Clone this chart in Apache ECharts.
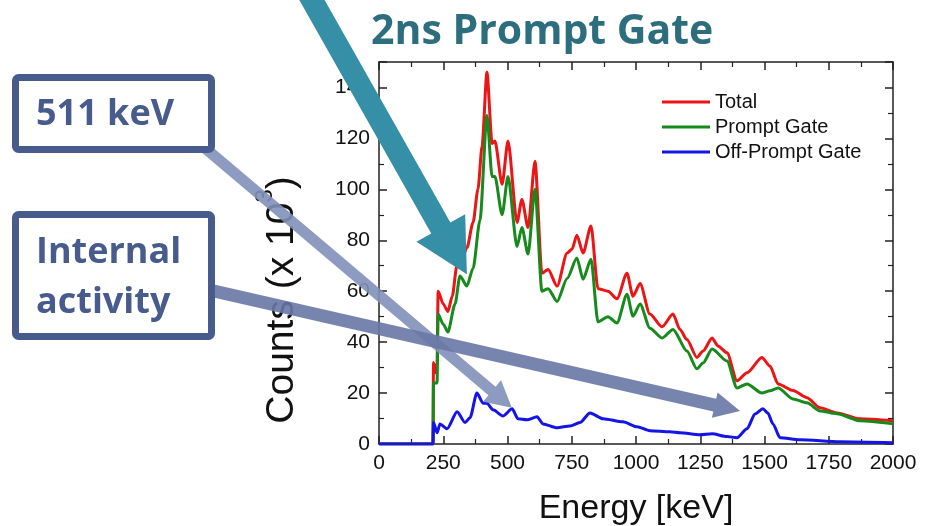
<!DOCTYPE html>
<html>
<head>
<meta charset="utf-8">
<script src="https://cdn.jsdelivr.net/npm/echarts@6/dist/echarts.min.js"></script>
<style>
  html, body { margin: 0; padding: 0; background: #ffffff; }
  #chart { width: 930px; height: 526px; }
</style>
</head>
<body>
<div id="chart"></div>
<script>
// Gamma energy spectra, counts in thousands per energy bin: [energy keV, counts]
const totalCounts = [
  [0,0],[205,0],[210,0],[212,32],[220,28],[226,32],[230,60],[250,55],[268,52],[285,58],
  [303,70],[320,72],[342,77],[366,87],[385,100],[401,117],[420,146],[440,118],[451,119],
  [479,102],[502,119],[537,87],[556,96],[580,85],[607,111],[634,67],[658,68.5],[693,62],
  [732,75],[751,76.5],[770,82],[794,75],[825,85.6],[852,61],[891,60],[926,57],[965,67],
  [988,58],[1016,63],[1054,51],[1101,46],[1144,51],[1171,45],[1198,41],[1237,34],
  [1261,36.5],[1296,41.6],[1319,38.5],[1354,35.8],[1393,24.8],[1432,28],[1490,34],
  [1521,30.6],[1553,23.6],[1611,21],[1665,18.2],[1716,14.2],[1782,12.2],[1872,9.9],[2000,9.1]
];
const promptCounts = [
  [0,0],[210,0],[212,24],[226,24],[230,51],[250,47],[268,44],[296,55],[315,66],[342,62],
  [366,69],[393,88],[420,129],[440,105],[451,105],[479,90],[502,105],[537,77.6],[556,85],
  [580,74.6],[607,100],[634,60],[658,61],[693,56],[732,65],[770,73],[794,64.7],[825,72.5],
  [852,48],[891,50],[926,47.5],[965,58.8],[988,50.2],[1016,55],[1054,45.5],[1101,41.6],
  [1144,45],[1198,36.5],[1237,29.5],[1261,31.8],[1296,37.3],[1354,32.6],[1393,22],
  [1432,23.6],[1490,20],[1521,20.9],[1553,22],[1611,17.7],[1665,16.2],[1716,13],
  [1782,11.9],[1872,9.1],[2000,7.9]
];
const offPromptCounts = [
  [0,0],[210,0],[212,8.4],[226,4.4],[237,7.9],[265,6],[304,12.7],[335,8.4],[354,10.3],
  [381,20],[405,16],[420,16],[444,13.4],[482,11],[518,13.8],[541,9.9],[576,9.5],[615,10.7],
  [638,7.9],[693,6.4],[743,7.1],[782,8.4],[821,12.2],[872,9.9],[949,8.7],[1004,6.8],
  [1054,5.2],[1132,4.8],[1171,4.4],[1249,3.6],[1296,4],[1354,2.9],[1393,2.5],[1432,6],
  [1463,11.8],[1494,13.8],[1513,12.2],[1533,7.9],[1560,2.5],[1638,1.7],[1794,0.9],[2000,0.5]
];
const seriesNames = ['Total', 'Prompt Gate', 'Off-Prompt Gate'];
const titleText = '2ns Prompt Gate';
const xAxisTitle = 'Energy [keV]';
// Callout boxes and the spectrum points their arrows land on: [energy keV, counts]
const gateArrowTip = [342, 66.7];
const annihilationLabel = '511 keV';
const annihilationTip = [517, 14.2];
const internalLabel = ['Internal', 'activity'];
const internalTip = [1405, 13];

const axisColor = '#222';
const frameAxis = (extra) => Object.assign({
  type: 'value',
  axisLine: { show: true, onZero: false, lineStyle: { color: axisColor, width: 1.5 } },
  axisTick: { show: true, inside: true, length: 8, lineStyle: { color: axisColor, width: 1.5 } },
  minorTick: { show: true, splitNumber: 2, length: 5, lineStyle: { color: axisColor, width: 1.2 } },
  splitLine: { show: false },
  minorSplitLine: { show: false }
}, extra);

const chart = echarts.init(document.getElementById('chart'), null, { renderer: 'canvas' });

const option = {
  backgroundColor: '#ffffff',
  animation: false,
  title: {
    text: titleText,
    left: 366, top: 7,
    textStyle: { fontFamily: 'Open Sans', fontWeight: 'bold', fontSize: 41, color: '#2d6e7e' }
  },
  grid: { left: 379, right: 37, top: 62, bottom: 82, containLabel: false, outerBoundsMode: 'none' },
  legend: {
    data: seriesNames,
    orient: 'vertical',
    left: 662, top: 92, padding: 0,
    icon: 'rect',
    itemWidth: 48, itemHeight: 3, itemGap: 5,
    textStyle: { fontFamily: 'Liberation Sans', fontSize: 20, color: '#111', lineHeight: 20 }
  },
  xAxis: [
    frameAxis({
      position: 'bottom', min: 0, max: 2000, interval: 250,
      name: xAxisTitle, nameLocation: 'middle', nameGap: 48,
      nameTextStyle: { fontFamily: 'Liberation Sans', fontSize: 34, color: '#111' },
      axisLabel: { fontFamily: 'Liberation Sans', fontSize: 21, color: '#111', margin: 9, formatter: (v) => String(v) }
    }),
    frameAxis({ position: 'top', min: 0, max: 2000, interval: 250, axisLabel: { show: false } })
  ],
  yAxis: [
    frameAxis({
      position: 'left', min: 0, max: 150, interval: 20,
      name: 'Counts (x 10{sup|3})', nameLocation: 'middle', nameGap: 68, nameRotate: 90,
      nameTextStyle: {
        fontFamily: 'Liberation Sans', fontSize: 39, color: '#111', lineHeight: 58,
        padding: [0, 94, 0, 0],
        rich: { sup: { fontFamily: 'Liberation Sans', fontSize: 24, color: '#111', verticalAlign: 'top', lineHeight: 58 } }
      },
      axisLabel: { fontFamily: 'Liberation Sans', fontSize: 21, color: '#111', margin: 9, showMaxLabel: false }
    }),
    frameAxis({ position: 'right', min: 0, max: 150, interval: 20, axisLabel: { show: false } })
  ],
  series: [
    { name: seriesNames[0], data: totalCounts, color: '#ec1515' },
    { name: seriesNames[1], data: promptCounts, color: '#178a1c' },
    { name: seriesNames[2], data: offPromptCounts, color: '#1414e6' }
  ].map(s => ({
    type: 'line', name: s.name, data: s.data, xAxisIndex: 0, yAxisIndex: 0,
    showSymbol: false, symbol: 'none', smooth: 0.25, smoothMonotone: 'x',
    itemStyle: { color: s.color },
    lineStyle: { color: s.color, width: 3 }
  }))
};
chart.setOption(option);

// Arrow outline from tail to tip, with a straight shaft and a triangular head
function arrowPoints(tail, tip, shaftW, headLen, headHalf) {
  const dx = tip[0] - tail[0], dy = tip[1] - tail[1];
  const len = Math.hypot(dx, dy);
  const ux = dx / len, uy = dy / len;
  const nx = -uy, ny = ux;
  const bx = tip[0] - ux * headLen, by = tip[1] - uy * headLen;
  const h = shaftW / 2;
  return [
    [tail[0] + nx * h, tail[1] + ny * h],
    [bx + nx * h, by + ny * h],
    [bx + nx * headHalf, by + ny * headHalf],
    tip,
    [bx - nx * headHalf, by - ny * headHalf],
    [bx - nx * h, by - ny * h],
    [tail[0] - nx * h, tail[1] - ny * h]
  ];
}

const toPx = (p) => chart.convertToPixel({ xAxisIndex: 0, yAxisIndex: 0 }, p);
const boxColor = '#475b8d';
const boxFont = { fontFamily: 'Open Sans', fontWeight: 'bold', fontSize: 36, fill: boxColor };

chart.setOption({
  graphic: [
    {
      type: 'polygon', z: 100,
      shape: { points: arrowPoints([295, -30], toPx(gateArrowTip), 22, 53, 28) },
      style: { fill: '#358fa6' }
    },
    {
      type: 'polygon', z: 100,
      shape: { points: arrowPoints([205, 148], toPx(annihilationTip), 11, 26, 14) },
      style: { fill: 'rgba(130,144,185,0.9)' }
    },
    {
      type: 'polygon', z: 100,
      shape: { points: arrowPoints([205, 289], toPx(internalTip), 13, 26, 13) },
      style: { fill: 'rgba(104,120,165,0.9)' }
    },
    {
      type: 'rect', z: 110,
      shape: { x: 15.5, y: 77.5, width: 196, height: 72, r: 3 },
      style: { fill: '#ffffff', stroke: boxColor, lineWidth: 7 }
    },
    {
      type: 'text', z: 111, left: 36, top: 97,
      style: Object.assign({ text: annihilationLabel }, boxFont)
    },
    {
      type: 'rect', z: 110,
      shape: { x: 15.5, y: 214.5, width: 196, height: 122, r: 3 },
      style: { fill: '#ffffff', stroke: boxColor, lineWidth: 7 }
    },
    {
      type: 'text', z: 111, left: 36, top: 228,
      style: Object.assign({ text: internalLabel.join('\n'), lineHeight: 50 }, boxFont)
    }
  ]
});
</script>
</body>
</html>
